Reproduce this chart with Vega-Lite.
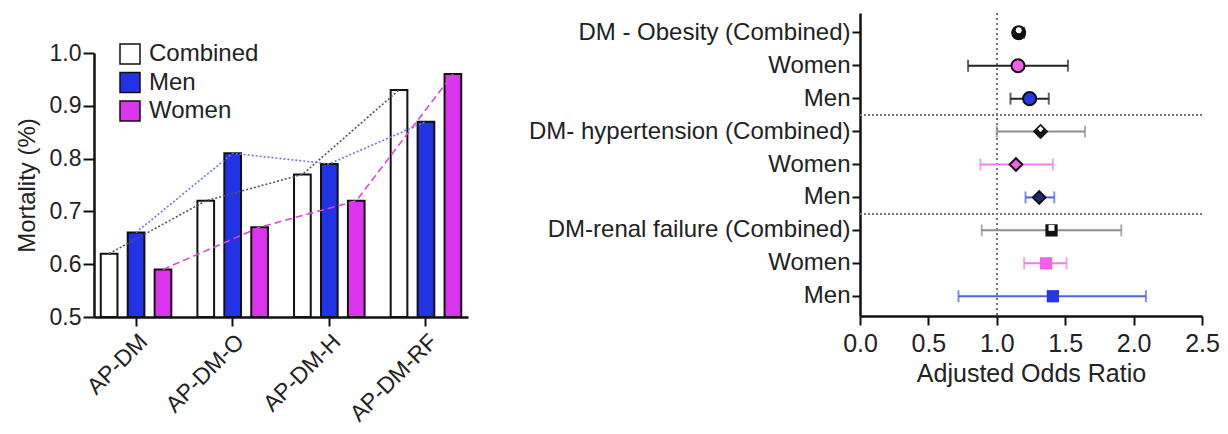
{
  "$schema": "https://vega.github.io/schema/vega-lite/v6.json",
  "padding": {"left": 15, "top": 12, "right": 5, "bottom": 5},
  "spacing": 60,
  "config": {
    "font": "Liberation Sans",
    "view": {"stroke": null},
    "axis": {"grid": false, "labelColor": "#222", "titleColor": "#222", "domainColor": "#111", "tickColor": "#111", "labelFontWeight": "normal", "titleFontWeight": "normal", "labelFlush": false}
  },
  "resolve": {"scale": {"color": "independent", "fill": "independent", "stroke": "independent", "shape": "independent", "size": "independent", "strokeDash": "independent", "x": "independent", "y": "independent"}},
  "hconcat": [
    {
      "spacing": 20,
      "vconcat": [
        {"width": 374, "height": 9, "data": {"values": []}, "mark": "point", "encoding": {}},
        {
          "width": 374,
          "height": 264,
          "data": {"values": [
            {"group": "AP-DM", "series": "Combined", "mortality": 0.62},
            {"group": "AP-DM", "series": "Men", "mortality": 0.66},
            {"group": "AP-DM", "series": "Women", "mortality": 0.59},
            {"group": "AP-DM-O", "series": "Combined", "mortality": 0.72},
            {"group": "AP-DM-O", "series": "Men", "mortality": 0.81},
            {"group": "AP-DM-O", "series": "Women", "mortality": 0.67},
            {"group": "AP-DM-H", "series": "Combined", "mortality": 0.77},
            {"group": "AP-DM-H", "series": "Men", "mortality": 0.79},
            {"group": "AP-DM-H", "series": "Women", "mortality": 0.72},
            {"group": "AP-DM-RF", "series": "Combined", "mortality": 0.93},
            {"group": "AP-DM-RF", "series": "Men", "mortality": 0.87},
            {"group": "AP-DM-RF", "series": "Women", "mortality": 0.96}
          ]},
          "encoding": {
            "x": {"field": "group", "type": "nominal", "sort": ["AP-DM", "AP-DM-O", "AP-DM-H", "AP-DM-RF"],
                  "scale": {"paddingInner": 0.27, "paddingOuter": 0.07},
                  "axis": {"title": null, "labelAngle": -45, "labelFontSize": 23, "tickSize": 9, "tickWidth": 2, "domainWidth": 2.5, "labelPadding": 4}},
            "xOffset": {"field": "series", "type": "nominal", "sort": ["Combined", "Men", "Women"], "scale": {"paddingInner": 0.38, "paddingOuter": 0}},
            "y": {"field": "mortality", "type": "quantitative", "scale": {"domain": [0.5, 1.0], "nice": false, "zero": false},
                  "axis": {"title": "Mortality (%)", "values": [0.5, 0.6, 0.7, 0.8, 0.9, 1.0], "format": ".1f", "labelFontSize": 23, "titleFontSize": 24, "tickSize": 11, "tickWidth": 2, "domainWidth": 2.5, "labelPadding": 2, "titlePadding": 10}}
          },
          "resolve": {"legend": {"fill": "independent", "color": "independent", "strokeDash": "independent"}},
          "layer": [
            {
              "mark": {"type": "bar", "stroke": "#111", "strokeWidth": 2},
              "encoding": {
                "y2": {"datum": 0.5},
                "fill": {"field": "series", "type": "nominal", "sort": ["Combined", "Men", "Women"],
                         "scale": {"domain": ["Combined", "Men", "Women"], "range": ["#ffffff", "#2233e6", "#dc33ee"]},
                         "legend": {"title": null, "orient": "none", "legendX": 24, "legendY": -11, "symbolType": "square", "symbolSize": 400, "symbolStrokeColor": "#111", "symbolStrokeWidth": 1.5, "symbolDash": [], "labelFontSize": 24, "labelColor": "#222", "rowPadding": 2.5, "padding": 0, "labelOffset": 7}}
              }
            },
            {
              "mark": {"type": "line", "strokeWidth": 1.6},
              "encoding": {
                "color": {"field": "series", "type": "nominal", "scale": {"domain": ["Combined", "Men", "Women"], "range": ["#555555", "#6677ee", "#dd44dd"]}, "legend": null},
                "strokeDash": {"field": "series", "type": "nominal", "scale": {"domain": ["Combined", "Men", "Women"], "range": [[2, 2], [2, 2], [7, 4]]}, "legend": null}
              }
            }
          ]
        }
      ]
    },
    {
      "width": 342,
      "height": 303,
      "data": {"values": [
        {"row": "r1", "outcome": "Obesity", "sex": "Combined", "or": 1.16, "lo": 1.13, "hi": 1.20},
        {"row": "r2", "outcome": "Obesity", "sex": "Women", "or": 1.155, "lo": 0.79, "hi": 1.52},
        {"row": "r3", "outcome": "Obesity", "sex": "Men", "or": 1.24, "lo": 1.10, "hi": 1.38},
        {"row": "r4", "outcome": "Hypertension", "sex": "Combined", "or": 1.32, "lo": 1.00, "hi": 1.645},
        {"row": "r5", "outcome": "Hypertension", "sex": "Women", "or": 1.14, "lo": 0.88, "hi": 1.41},
        {"row": "r6", "outcome": "Hypertension", "sex": "Men", "or": 1.31, "lo": 1.21, "hi": 1.42},
        {"row": "r7", "outcome": "Renal", "sex": "Combined", "or": 1.40, "lo": 0.89, "hi": 1.91},
        {"row": "r8", "outcome": "Renal", "sex": "Women", "or": 1.36, "lo": 1.20, "hi": 1.51},
        {"row": "r9", "outcome": "Renal", "sex": "Men", "or": 1.41, "lo": 0.72, "hi": 2.09}
      ]},
      "layer": [
        {
          "mark": {"type": "rule", "color": "#777", "strokeDash": [2, 3], "strokeWidth": 1.6},
          "encoding": {"x": {"datum": 1}}
        },
        {
          "mark": {"type": "rule", "strokeWidth": 2},
          "encoding": {
            "x": {"field": "lo", "type": "quantitative", "scale": {"domain": [0, 2.5], "nice": false, "zero": false},
                  "axis": {"values": [0, 0.5, 1, 1.5, 2, 2.5], "format": ".1f", "title": "Adjusted Odds Ratio", "labelFontSize": 25, "titleFontSize": 25, "tickSize": 9, "tickWidth": 2, "domainWidth": 2.5, "labelPadding": 6, "titlePadding": 5}},
            "x2": {"field": "hi"},
            "y": {"field": "row", "type": "nominal", "sort": ["r1", "r2", "r3", "r4", "r5", "r6", "r7", "r8", "r9"],
                  "scale": {"type": "band", "paddingInner": 0, "paddingOuter": 0.1},
                  "axis": {"labelExpr": "{'r1':'DM - Obesity (Combined)','r2':'Women','r3':'Men','r4':'DM- hypertension (Combined)','r5':'Women','r6':'Men','r7':'DM-renal failure (Combined)','r8':'Women','r9':'Men'}[datum.value]", "title": null, "labelFontSize": 24, "labelLimit": 0, "labelOverlap": false, "tickSize": 8, "tickWidth": 2, "domainWidth": 2.5, "labelPadding": 2}},
            "color": {"condition": {"test": "datum.outcome === 'Obesity'", "value": "#222"}, "field": "sex", "type": "nominal", "scale": {"domain": ["Combined", "Women", "Men"], "range": ["#8c8c8c", "#f07cee", "#4a63e6"]}, "legend": null}
          }
        },
        {
          "mark": {"type": "rule", "color": "#777", "strokeDash": [2, 2], "strokeWidth": 1.6},
          "encoding": {"y": {"datum": "r3", "bandPosition": 1}}
        },
        {
          "mark": {"type": "rule", "color": "#777", "strokeDash": [2, 2], "strokeWidth": 1.6},
          "encoding": {"y": {"datum": "r6", "bandPosition": 1}}
        },
        {
          "mark": {"type": "tick", "orient": "vertical", "size": 12, "thickness": 2},
          "encoding": {
            "x": {"field": "lo", "type": "quantitative"},
            "y": {"field": "row", "type": "nominal"},
            "color": {"condition": {"test": "datum.outcome === 'Obesity'", "value": "#222"}, "field": "sex", "type": "nominal", "scale": {"domain": ["Combined", "Women", "Men"], "range": ["#8c8c8c", "#f07cee", "#4a63e6"]}, "legend": null}
          }
        },
        {
          "mark": {"type": "tick", "orient": "vertical", "size": 12, "thickness": 2},
          "encoding": {
            "x": {"field": "hi", "type": "quantitative"},
            "y": {"field": "row", "type": "nominal"},
            "color": {"condition": {"test": "datum.outcome === 'Obesity'", "value": "#222"}, "field": "sex", "type": "nominal", "scale": {"domain": ["Combined", "Women", "Men"], "range": ["#8c8c8c", "#f07cee", "#4a63e6"]}, "legend": null}
          }
        },
        {
          "mark": {"type": "point", "filled": true, "opacity": 1, "strokeWidth": 2},
          "encoding": {
            "x": {"field": "or", "type": "quantitative"},
            "y": {"field": "row", "type": "nominal"},
            "shape": {"field": "outcome", "type": "nominal", "scale": {"domain": ["Obesity", "Hypertension", "Renal"], "range": ["circle", "diamond", "square"]}, "legend": null},
            "size": {"field": "outcome", "type": "nominal", "scale": {"domain": ["Obesity", "Hypertension", "Renal"], "range": [170, 150, 220]}, "legend": null},
            "fill": {"condition": {"test": "datum.outcome === 'Hypertension' && datum.sex === 'Men'", "value": "#1c2a80"}, "field": "sex", "type": "nominal", "scale": {"domain": ["Combined", "Women", "Men"], "range": ["#111111", "#f55fe8", "#2338e0"]}, "legend": null},
            "stroke": {"condition": {"test": "datum.outcome !== 'Renal'", "value": "#111"}, "value": "transparent"}
          }
        },
        {
          "transform": [{"filter": "datum.sex === 'Combined'"}],
          "mark": {"type": "point", "filled": true, "opacity": 1, "fill": "#ffffff", "yOffset": -2.5},
          "encoding": {
            "x": {"field": "or", "type": "quantitative"},
            "y": {"field": "row", "type": "nominal"},
            "shape": {"field": "outcome", "type": "nominal", "scale": {"domain": ["Obesity", "Hypertension", "Renal"], "range": ["circle", "diamond", "square"]}, "legend": null},
            "size": {"value": 35}
          }
        }
      ]
    }
  ]
}
